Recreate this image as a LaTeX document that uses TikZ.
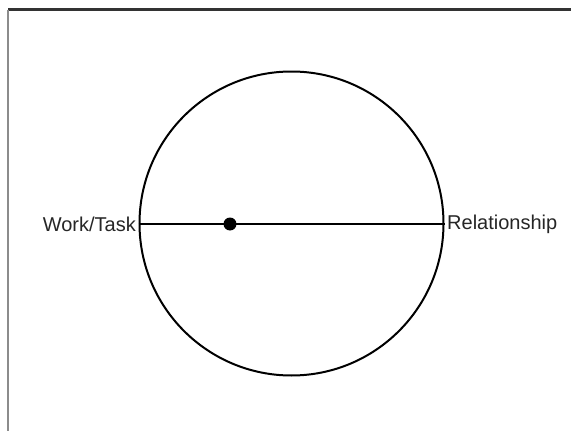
\documentclass[tikz,border=0pt]{standalone}
\usepackage{fontspec}
\setmainfont{Liberation Sans}
\tikzset{
  lbl/.style={font=\fontsize{20}{24}\selectfont, inner sep=0pt, text=black!85},
  edge/.style={line width=2pt, black}
}
\begin{document}
\begin{tikzpicture}[x=1pt,y=-1pt]
\useasboundingbox (0,0) rectangle (571,431);
\fill[white] (0,0) rectangle (571,431);
\draw[line width=2.2pt, black!80] (8,9.5) -- (571,9.5);
\draw[line width=2.2pt, black!45] (8,9.5) -- (8,431);
\node[circle, draw, edge, minimum size=304pt, inner sep=0pt] (c) at (291.5,223.5) {};
\draw[edge] (c.west) -- (c.east);
\node[circle, fill=black, minimum size=13pt, inner sep=0pt] (d) at (230,224) {};
\node[lbl, anchor=east] (w) at (136,224) {Work/Task};
\node[lbl, anchor=west] (r) at (447,224) {Relationship};
\end{tikzpicture}
\end{document}
